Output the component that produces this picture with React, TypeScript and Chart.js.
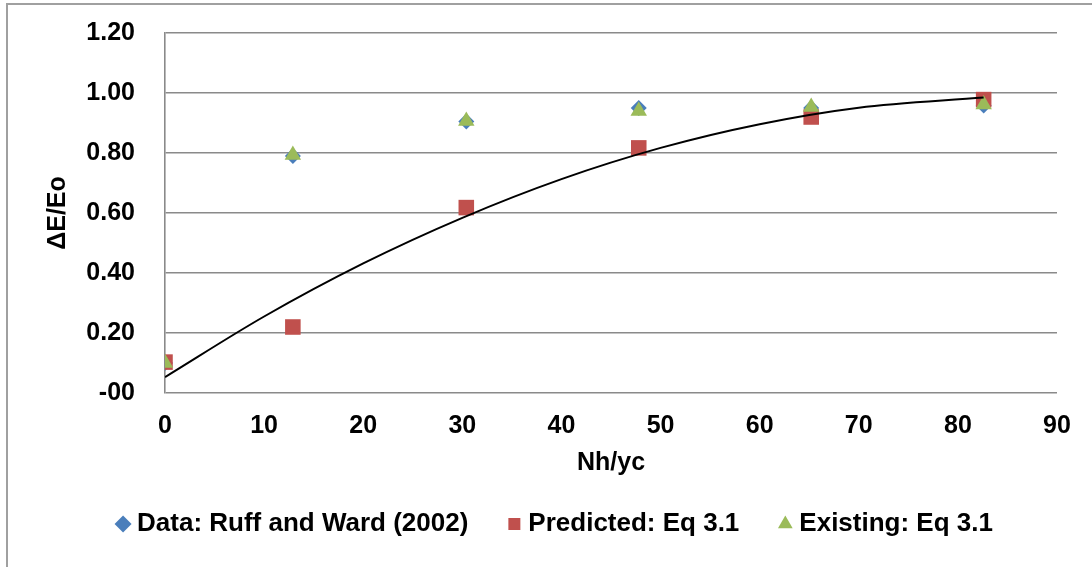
import React, { useEffect, useRef } from "react";
import { Chart, registerables } from "chart.js";

Chart.register(...registerables);

const xData: number[] = [0, 12.9, 30.4, 47.8, 65.2, 82.6];
const dataRuffWard: number[] = [0.1, 0.79, 0.905, 0.95, 0.95, 0.958];
const predictedEq31: number[] = [0.103, 0.22, 0.618, 0.817, 0.92, 0.978];
const existingEq31: number[] = [0.1, 0.793, 0.907, 0.94, 0.953, 0.962];

const trendX: number[] = [0, 10, 20, 30, 40, 50, 60, 70, 82.6];
const trendY: number[] = [0.053, 0.255, 0.432, 0.584, 0.713, 0.817, 0.896, 0.951, 0.985];

const seriesNames: string[] = ["Data: Ruff and Ward (2002)", "Predicted: Eq 3.1", "Existing: Eq 3.1"];
const xTitle = "Nh/yc";
const yTitle = "\u0394E/Eo";

const FONT = "'Liberation Sans', Arial, Helvetica, sans-serif";
const GRID = "#8a8a8a";
const CLEAR = "rgba(0,0,0,0)";

function pts(xs: number[], ys: number[]) {
  return xs.map((x, i) => ({ x, y: ys[i] }));
}

export default function App() {
  const ref = useRef<HTMLCanvasElement | null>(null);

  useEffect(() => {
    if (!ref.current) return;
    const chart = new Chart(ref.current, {
      type: "scatter",
      data: {
        datasets: [
          {
            label: seriesNames[0],
            data: pts(xData, dataRuffWard),
            pointStyle: "rectRot",
            pointRadius: 8,
            backgroundColor: "#4A7EBB",
            borderColor: "#4A7EBB",
            borderWidth: 0,
            order: 4,
          },
          {
            label: seriesNames[1],
            data: pts(xData, predictedEq31),
            pointStyle: "rect",
            pointRadius: 11,
            backgroundColor: "#C0504D",
            borderColor: "#C0504D",
            borderWidth: 0,
            order: 3,
          },
          {
            label: seriesNames[2],
            data: pts(xData, existingEq31),
            pointStyle: "triangle",
            pointRadius: 9.5,
            backgroundColor: "#9BBB59",
            borderColor: "#9BBB59",
            borderWidth: 0,
            order: 2,
          },
          {
            label: "trend",
            data: pts(trendX, trendY),
            showLine: true,
            pointRadius: 0,
            borderColor: "#000000",
            borderWidth: 2,
            cubicInterpolationMode: "monotone",
            fill: false,
            order: 1,
          } as any,
        ],
      },
      options: {
        animation: false,
        responsive: false,
        maintainAspectRatio: false,
        layout: { padding: { left: 58, right: 35, top: 33, bottom: 20 } },
        plugins: {
          tooltip: { enabled: false },
          legend: {
            position: "bottom",
            labels: {
              usePointStyle: true,
              boxWidth: 2,
              boxHeight: 12,
              padding: 45,
              color: "#000",
              font: { family: FONT, size: 26, weight: "bold" },
              filter: (item: any) => item.datasetIndex !== 3,
              sort: (a: any, b: any) => a.datasetIndex - b.datasetIndex,
            },
          },
        },
        scales: {
          x: {
            type: "linear",
            min: 0,
            max: 90,
            ticks: {
              stepSize: 10,
              padding: 3,
              color: "#000",
              font: { family: FONT, size: 25, weight: "bold" },
            },
            grid: { display: false, drawTicks: true, tickLength: 15, tickColor: CLEAR },
            border: { display: false },
            title: {
              display: true,
              text: xTitle,
              color: "#000",
              font: { family: FONT, size: 25, weight: "bold" },
              padding: { top: 0, bottom: -12 },
            },
            afterFit: (s: any) => {
              s.height = 73;
            },
          },
          y: {
            type: "linear",
            min: 0,
            max: 1.2,
            ticks: {
              stepSize: 0.2,
              padding: 3,
              color: "#000",
              font: { family: FONT, size: 25, weight: "bold" },
              callback: (v: any) => (Math.abs(Number(v)) < 1e-9 ? "-00" : Number(v).toFixed(2)),
            },
            grid: { color: GRID, lineWidth: 1.6, drawTicks: true, tickLength: 27, tickColor: CLEAR },
            border: { display: true, color: GRID, width: 1.6 },
            title: {
              display: true,
              text: yTitle,
              color: "#000",
              font: { family: FONT, size: 25, weight: "bold" },
              padding: { top: -15, bottom: 0 },
            },
            afterFit: (s: any) => {
              s.width = 107;
            },
          },
        },
      } as any,
    });
    return () => chart.destroy();
  }, []);

  return (
    <div style={{ position: "fixed", left: 0, top: 0, width: 1092, height: 567, background: "#fff", overflow: "hidden" }}>
      <div
        style={{
          position: "absolute",
          left: 6,
          top: 3,
          width: 1100,
          height: 600,
          borderLeft: "2px solid #a0a0a0",
          borderTop: "2px solid #a0a0a0",
        }}
      />
      <canvas ref={ref} width={1092} height={567} style={{ position: "absolute", left: 0, top: 0, display: "block" }} />
    </div>
  );
}
